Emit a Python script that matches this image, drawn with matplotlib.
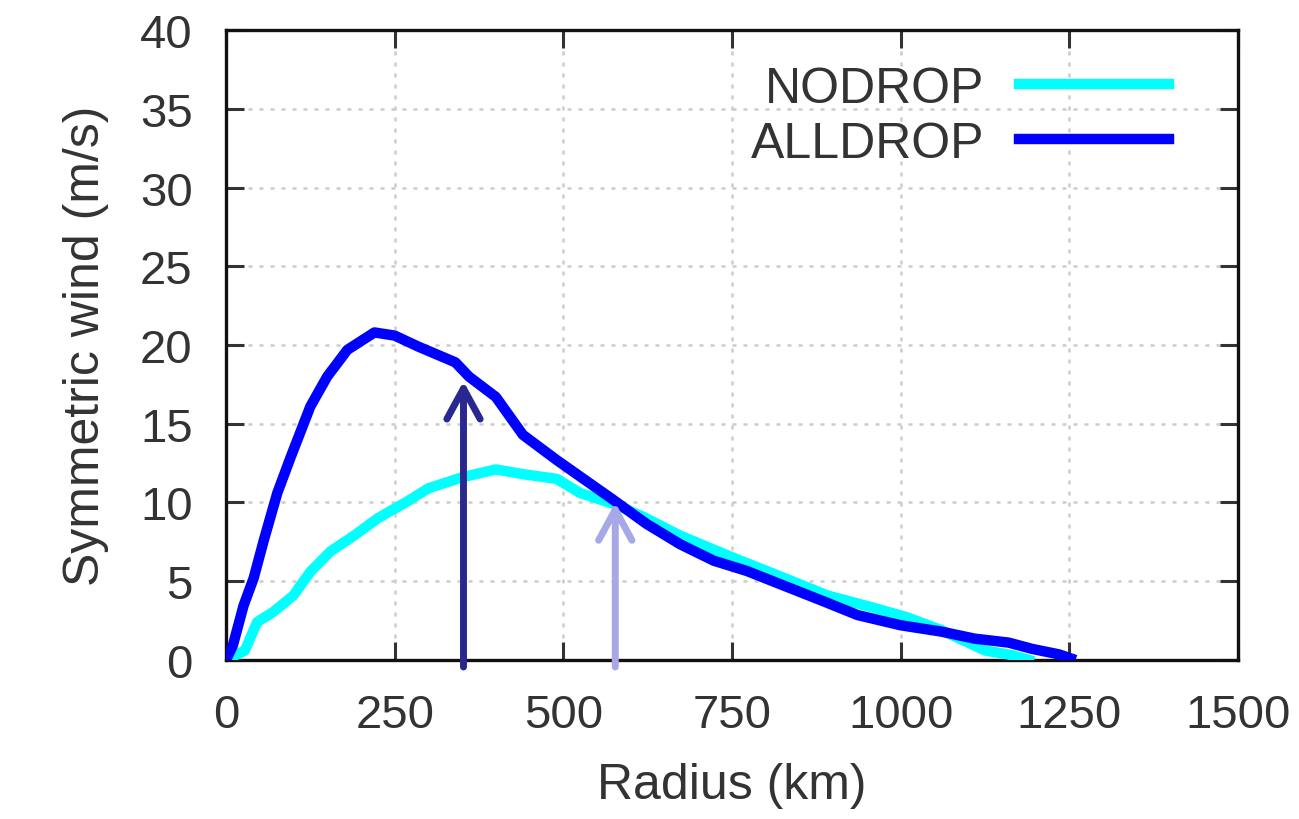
import matplotlib
matplotlib.use("Agg")
import matplotlib.pyplot as plt

# radius (km) / symmetric wind (m/s)
nodrop_r = [0, 28, 46, 70, 100, 125, 155, 190, 225, 270, 300, 350, 400, 440,
            490, 525, 575, 618, 673, 757, 822, 891, 961, 1010, 1060, 1125,
            1165, 1190]
nodrop_v = [0, 0.6, 2.4, 3.05, 4.1, 5.6, 6.9, 7.9, 9.0, 10.1, 10.9, 11.6, 12.1,
            11.8, 11.5, 10.6, 9.9, 9.1, 7.9, 6.4, 5.3, 4.1, 3.3, 2.7, 1.9, 0.6,
            0.3, 0.0]

alldrop_r = [0, 10, 26, 41, 56, 76, 96, 125, 150, 180, 220, 250, 285, 340,
             360, 400, 440, 490, 573, 623, 673, 723, 772, 822, 887, 936, 1000,
             1060, 1110, 1160, 1195, 1235, 1252]
alldrop_v = [0, 0.9, 3.45, 5.2, 7.6, 10.6, 12.9, 16.1, 18.0, 19.7, 20.8, 20.6,
             19.9, 18.9, 18.0, 16.7, 14.3, 12.7, 10.2, 8.65, 7.35, 6.3, 5.65,
             4.8, 3.7, 2.85, 2.2, 1.8, 1.35, 1.1, 0.7, 0.35, 0.1]

# arrows: (radius, tip value, colour)
arrow_r = [352, 577]
arrow_tip = [17.7, 10.0]
arrow_colors = ['#282890', '#a8a8e8']

xticks = [0, 250, 500, 750, 1000, 1250, 1500]
yticks = [0, 5, 10, 15, 20, 25, 30, 35, 40]

plt.rcParams['font.family'] = ['Liberation Sans', 'DejaVu Sans']
FS = 34

fig = plt.figure(figsize=(12.99, 8.2), dpi=100)
ax = fig.add_axes([0.174, 0.194, 0.779, 0.768])

ax.plot(nodrop_r, nodrop_v, color='#00ffff', lw=7.5, label='NODROP',
        solid_joinstyle='round', zorder=3)
ax.plot(alldrop_r, alldrop_v, color='#0000ff', lw=7.5, label='ALLDROP',
        solid_joinstyle='round', zorder=4)

for r, tip, c in zip(arrow_r, arrow_tip, arrow_colors):
    ax.annotate('', xy=(r, tip), xytext=(r, -0.45),
                arrowprops=dict(arrowstyle='->,head_length=1.1,head_width=0.6',
                                color=c, lw=5, shrinkA=0, shrinkB=0,
                                mutation_scale=20, capstyle='round',
                                joinstyle='round'),
                annotation_clip=False, zorder=6)

ax.set_xlim(0, 1500)
ax.set_ylim(0, 40)
ax.set_xticks(xticks)
ax.set_yticks(yticks)
ax.tick_params(direction='in', length=13, width=2.2, color='#333333',
               labelsize=FS, labelcolor='#333333', top=True, right=True)
ax.tick_params(axis='x', pad=24)
ax.tick_params(axis='y', pad=24)

ax.grid(True, color='#cccccc', lw=1.8, linestyle=(0, (1.6, 2.8)))
ax.set_axisbelow(True)
for s in ax.spines.values():
    s.set_linewidth(2.4)
    s.set_color('#111111')

ax.set_xlabel('Radius (km)', fontsize=FS + 2, color='#333333', labelpad=18)
ax.set_ylabel('Symmetric wind (m/s)', fontsize=FS + 2, color='#333333',
              labelpad=22)

leg = ax.legend(loc='upper right', bbox_to_anchor=(0.952, 0.975), frameon=False,
                fontsize=FS + 2, markerfirst=False, handlelength=3.0,
                handletextpad=0.7, labelspacing=0.18, borderaxespad=0)
for t in leg.get_texts():
    t.set_color('#333333')

fig.savefig('out.png', dpi=100, facecolor='white')
